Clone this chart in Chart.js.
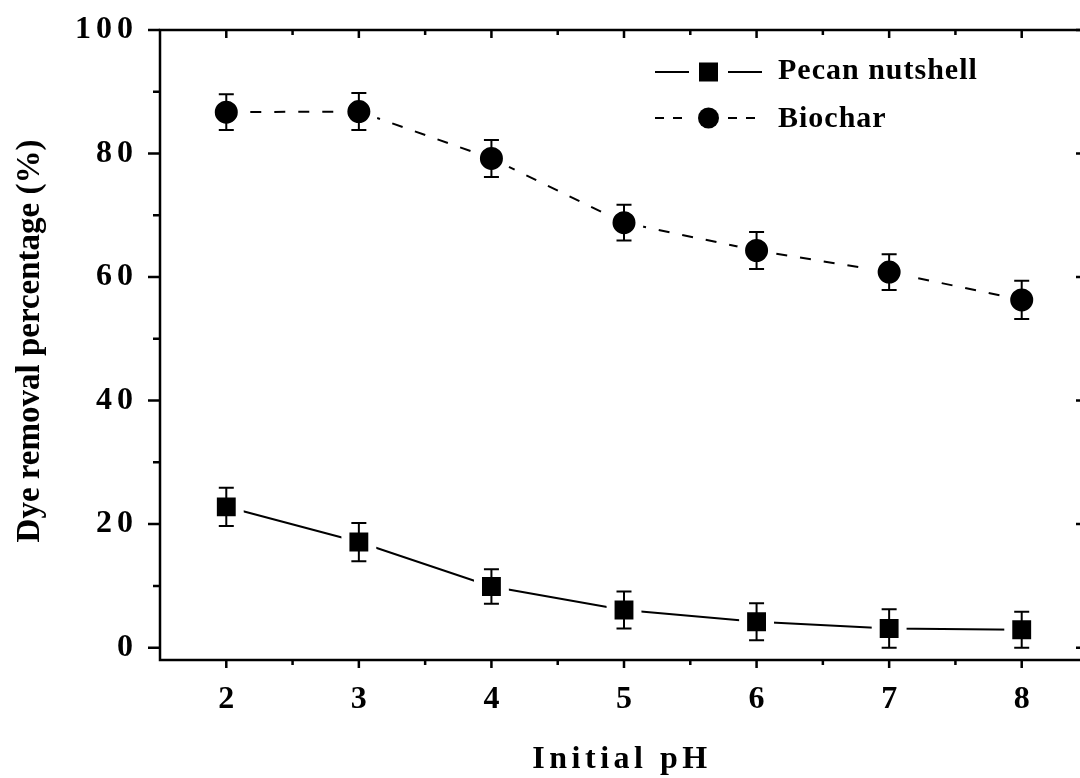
<!DOCTYPE html>
<html>
<head>
<meta charset="utf-8">
<script src="https://cdn.jsdelivr.net/npm/chart.js@4/dist/chart.umd.min.js"></script>
<style>
  html, body { margin: 0; padding: 0; background: #fff; overflow: hidden; }
  #grafico { display: block; }
</style>
</head>
<body>
<canvas id="grafico" width="1100" height="778"></canvas>
<script>
// datos
const phValues = [2, 3, 4, 5, 6, 7, 8];
const pecanRemoval = [22.8, 17.1, 9.9, 6.1, 4.2, 3.1, 2.9];
const pecanError = [3.1, 3.1, 2.8, 3.0, 3.0, 3.1, 2.9];
const biocharRemoval = [86.7, 86.8, 79.2, 68.8, 64.3, 60.8, 56.3];
const biocharError = [2.9, 3.0, 3.0, 2.9, 3.0, 2.9, 3.1];
const xTicks = [2, 3, 4, 5, 6, 7, 8];
const xMinorTicks = [2.5, 3.5, 4.5, 5.5, 6.5, 7.5];
const yTicks = [0, 20, 40, 60, 80, 100];
const yMinorTicks = [10, 30, 50, 70, 90];

const serif = '"Liberation Serif", "Times New Roman", serif';

// barras de error
const errorBars = {
    id: "errorBars",
    afterDatasetsDraw(chart) {
        const ctx = chart.ctx;
        const xs = chart.scales.x, ys = chart.scales.y;
        ctx.save();
        ctx.strokeStyle = "#000";
        ctx.lineWidth = 2;
        chart.data.datasets.forEach(ds => {
            ds.data.forEach((p, i) => {
                const x = xs.getPixelForValue(p.x);
                const top = ys.getPixelForValue(p.y + ds.errors[i]);
                const bot = ys.getPixelForValue(p.y - ds.errors[i]);
                ctx.beginPath();
                ctx.moveTo(x, top); ctx.lineTo(x, bot);
                ctx.moveTo(x - 7.5, top); ctx.lineTo(x + 7.5, top);
                ctx.moveTo(x - 7.5, bot); ctx.lineTo(x + 7.5, bot);
                ctx.stroke();
            });
        });
        ctx.restore();
    }
};

// marco, ticks, titulos y leyenda
const frame = {
    id: "frame",
    beforeDraw(chart) {
        chart.ctx.letterSpacing = "5px";
    },
    afterDraw(chart) {
        const ctx = chart.ctx;
        const xs = chart.scales.x, ys = chart.scales.y;
        const a = chart.chartArea;
        ctx.save();
        ctx.letterSpacing = "0px";
        ctx.strokeStyle = "#000";
        ctx.lineWidth = 2.5;
        ctx.strokeRect(a.left, a.top, a.right - a.left, a.bottom - a.top);

        ctx.beginPath();
        xTicks.forEach(v => {
            const x = xs.getPixelForValue(v);
            ctx.moveTo(x, a.bottom); ctx.lineTo(x, a.bottom + 8);
            ctx.moveTo(x, a.top); ctx.lineTo(x, a.top + 8);
        });
        xMinorTicks.forEach(v => {
            const x = xs.getPixelForValue(v);
            ctx.moveTo(x, a.bottom); ctx.lineTo(x, a.bottom + 5);
            ctx.moveTo(x, a.top); ctx.lineTo(x, a.top + 5);
        });
        yTicks.forEach(v => {
            const y = ys.getPixelForValue(v);
            ctx.moveTo(a.left, y); ctx.lineTo(a.left - 12, y);
            ctx.moveTo(a.right, y); ctx.lineTo(a.right - 12, y);
        });
        yMinorTicks.forEach(v => {
            const y = ys.getPixelForValue(v);
            ctx.moveTo(a.left, y); ctx.lineTo(a.left - 7, y);
            ctx.moveTo(a.right, y); ctx.lineTo(a.right - 7, y);
        });
        ctx.stroke();

        // titulos de ejes
        ctx.fillStyle = "#000";
        ctx.font = "bold 32px " + serif;
        ctx.textAlign = "center";
        ctx.textBaseline = "alphabetic";
        ctx.letterSpacing = "4.5px";
        ctx.fillText("Initial pH", 622, 768);
        ctx.letterSpacing = "0px";
        ctx.font = "bold 33px " + serif;
        ctx.save();
        ctx.translate(39, 341);
        ctx.rotate(-Math.PI / 2);
        ctx.fillText("Dye removal percentage (%)", 0, 0);
        ctx.restore();

        // leyenda
        ctx.font = "bold 30px " + serif;
        ctx.textAlign = "left";
        ctx.letterSpacing = "1px";
        ctx.lineWidth = 2;
        ctx.beginPath();
        ctx.moveTo(655, 72); ctx.lineTo(689, 72);
        ctx.moveTo(728, 72); ctx.lineTo(762, 72);
        ctx.stroke();
        ctx.fillRect(699, 62.5, 19, 19);
        ctx.fillText("Pecan nutshell", 778, 79);

        ctx.setLineDash([9, 9]);
        ctx.beginPath();
        ctx.moveTo(655, 118); ctx.lineTo(690, 118);
        ctx.moveTo(728, 118); ctx.lineTo(763, 118);
        ctx.stroke();
        ctx.setLineDash([]);
        ctx.beginPath();
        ctx.arc(708.5, 118, 10.5, 0, Math.PI * 2);
        ctx.fill();
        ctx.fillText("Biochar", 778, 127);
        ctx.restore();
    }
};

function noPad(s) {
    s.paddingTop = 0; s.paddingBottom = 0;
    s.paddingLeft = 0; s.paddingRight = 0;
}

new Chart(document.getElementById("grafico"), {
    type: "line",
    data: {
        datasets: [{
            label: "Pecan nutshell",
            data: phValues.map((x, i) => ({ x: x, y: pecanRemoval[i] })),
            errors: pecanError,
            borderColor: "#000",
            borderWidth: 2,
            pointStyle: "rect",
            pointRadius: 19,
            pointBackgroundColor: "#000",
            pointBorderColor: "#fff",
            pointBorderWidth: 8,
            tension: 0,
            fill: false
        }, {
            label: "Biochar",
            data: phValues.map((x, i) => ({ x: x, y: biocharRemoval[i] })),
            errors: biocharError,
            borderColor: "#000",
            borderWidth: 2,
            borderDash: [11, 13],
            pointStyle: "circle",
            pointRadius: 15.5,
            pointBackgroundColor: "#000",
            pointBorderColor: "#fff",
            pointBorderWidth: 8,
            tension: 0,
            fill: false
        }]
    },
    options: {
        responsive: false,
        animation: false,
        events: [],
        layout: { autoPadding: false, padding: { left: 0, top: 30, right: 12, bottom: 0 } },
        plugins: {
            legend: { display: false },
            tooltip: { enabled: false }
        },
        scales: {
            x: {
                type: "linear",
                min: 1.5,
                max: 8.5,
                afterBuildTicks: s => { s.ticks = xTicks.map(v => ({ value: v })); },
                afterFit: s => { s.height = 118; noPad(s); },
                grid: { display: true, drawOnChartArea: false, drawTicks: false, color: "rgba(0,0,0,0)" },
                border: { display: false },
                ticks: {
                    padding: 21,
                    labelOffset: 2.5,
                    color: "#000",
                    font: { family: serif, size: 32, weight: "bold" }
                }
            },
            y: {
                min: -2,
                max: 100,
                afterBuildTicks: s => { s.ticks = yTicks.map(v => ({ value: v })); },
                afterFit: s => { s.width = 160; noPad(s); },
                grid: { display: true, drawOnChartArea: false, drawTicks: false, color: "rgba(0,0,0,0)" },
                border: { display: false },
                ticks: {
                    padding: 22,
                    color: "#000",
                    font: { family: serif, size: 32, weight: "bold" }
                }
            }
        }
    },
    plugins: [errorBars, frame]
});
</script>
</body>
</html>
